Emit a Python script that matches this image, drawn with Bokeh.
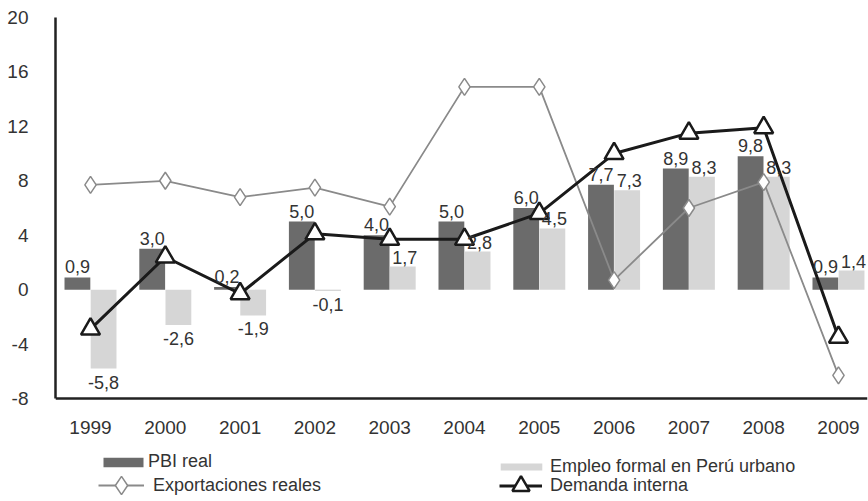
import numpy as np
from bokeh.plotting import figure
from bokeh.models import (ColumnDataSource, FixedTicker, Range1d, Legend, LegendItem)
from bokeh.core.properties import value
from bokeh.transform import dodge
from bokeh.embed import file_html
from bokeh.resources import INLINE

# ---- data ----
years = ["1999", "2000", "2001", "2002", "2003", "2004", "2005", "2006", "2007", "2008", "2009"]
pbi_real = [0.9, 3.0, 0.2, 5.0, 4.0, 5.0, 6.0, 7.7, 8.9, 9.8, 0.9]
empleo_formal = [-5.8, -2.6, -1.9, -0.1, 1.7, 2.8, 4.5, 7.3, 8.3, 8.3, 1.4]
exportaciones = [7.7, 8.0, 6.8, 7.5, 6.1, 14.9, 14.9, 0.7, 6.0, 7.9, -6.3]
demanda_interna = [-2.9, 2.4, -0.3, 4.1, 3.7, 3.7, 5.6, 10.0, 11.5, 11.9, -3.5]
y_ticks = [-8, -4, 0, 4, 8, 12, 16, 20]

FONT = "Liberation Sans"
TXT = "#333333"
DARK = "#6b6b6b"
LIGHT = "#d6d6d6"
GRAY_LINE = "#8a8a8a"


def fmt(v):
    return f"{v:.1f}".replace(".", ",")


x = np.arange(len(years))
src = ColumnDataSource(dict(
    x=x, pbi=pbi_real, emp=empleo_formal, exp=exportaciones, dem=demanda_interna,
    pbi_lbl=[fmt(v) for v in pbi_real],
))
emp_arr = np.array(empleo_formal)
pos = emp_arr >= 0
src_emp_pos = ColumnDataSource(dict(x=x[pos], v=emp_arr[pos], lbl=[fmt(v) for v in emp_arr[pos]]))
src_emp_neg = ColumnDataSource(dict(x=x[~pos], v=emp_arr[~pos], lbl=[fmt(v) for v in emp_arr[~pos]]))

p = figure(width=868, height=501, output_backend="svg", toolbar_location=None,
           x_range=Range1d(-0.468, 10.388), y_range=Range1d(-15.57, 20.514),
           min_border_left=55, min_border_right=1, min_border_top=10, min_border_bottom=0)
p.outline_line_color = None
p.grid.visible = False
p.background_fill_color = "white"

# bars
bw = 0.345
r_pbi = p.vbar(x=dodge("x", -0.175), top="pbi", bottom=0, width=bw, source=src,
               fill_color=DARK, line_color=None)
r_emp = p.vbar(x=dodge("x", 0.175), top="emp", bottom=0, width=bw, source=src,
               fill_color=LIGHT, line_color=None)

# exportaciones
r_exp_l = p.line("x", "exp", source=src, line_color=GRAY_LINE, line_width=1.8)
r_exp_m = p.scatter("x", "exp", source=src, marker="diamond", size=17,
                    fill_color="white", line_color=GRAY_LINE, line_width=1.5)

# demanda interna
r_dem_l = p.line("x", "dem", source=src, line_color="#1a1a1a", line_width=3)
r_dem_m = p.scatter("x", "dem", source=src, marker="triangle", size=19,
                    fill_color="white", line_color="#1a1a1a", line_width=2.5)

# value labels
p.text(x=dodge("x", -0.175), y="pbi", text="pbi_lbl", source=src,
       text_font=value(FONT), text_font_size="18px", text_color=TXT,
       text_align="center", text_baseline="bottom", y_offset=-4)
p.text(x=dodge("x", 0.175), y="v", text="lbl", source=src_emp_pos,
       text_font=value(FONT), text_font_size="18px", text_color=TXT,
       text_align="center", text_baseline="bottom", x_offset=2, y_offset=-3)
p.text(x=dodge("x", 0.175), y="v", text="lbl", source=src_emp_neg,
       text_font=value(FONT), text_font_size="18px", text_color=TXT,
       text_align="center", text_baseline="top", y_offset=7)

# axes
p.xaxis.ticker = FixedTicker(ticks=list(x))
p.xaxis.major_label_overrides = {int(i): y for i, y in zip(x, years)}
p.xaxis.fixed_location = y_ticks[0]
p.yaxis.ticker = FixedTicker(ticks=y_ticks)
p.yaxis.major_label_overrides = {t: str(t) for t in y_ticks}
p.yaxis.bounds = (y_ticks[0], y_ticks[-1])
for ax in (p.xaxis[0], p.yaxis[0]):
    ax.axis_line_color = "#222222"
    ax.axis_line_width = 2.5
    ax.major_tick_line_color = None
    ax.minor_tick_line_color = None
    ax.major_label_text_font = FONT
    ax.major_label_text_font_size = "19px"
    ax.major_label_text_color = TXT
p.xaxis.major_label_standoff = 17
p.yaxis.major_label_standoff = 21


def mk_legend(items, xloc, yloc, gw, gh, standoff):
    lg = Legend(items=items, location=(xloc, yloc), orientation="vertical",
                glyph_width=gw, glyph_height=gh, label_standoff=standoff,
                padding=0, margin=0, spacing=0,
                border_line_alpha=0, background_fill_alpha=0,
                label_text_font=FONT, label_text_font_size="18px",
                label_text_color=TXT, label_height=20)
    p.add_layout(lg, "center")


mk_legend([LegendItem(label="PBI real", renderers=[r_pbi], index=0)], 43, 29, 50, 12, 0)
mk_legend([LegendItem(label="Exportaciones reales", renderers=[r_exp_l, r_exp_m])], 43, -7, 46, 46, 9)
mk_legend([LegendItem(label="Empleo formal en Perú urbano", renderers=[r_emp], index=0)], 440, 24, 52, 9, 3)
mk_legend([LegendItem(label="Demanda interna", renderers=[r_dem_l, r_dem_m])], 444, -5.5, 43, 43, 8)

open("out.html", "w").write(file_html(p, INLINE))
